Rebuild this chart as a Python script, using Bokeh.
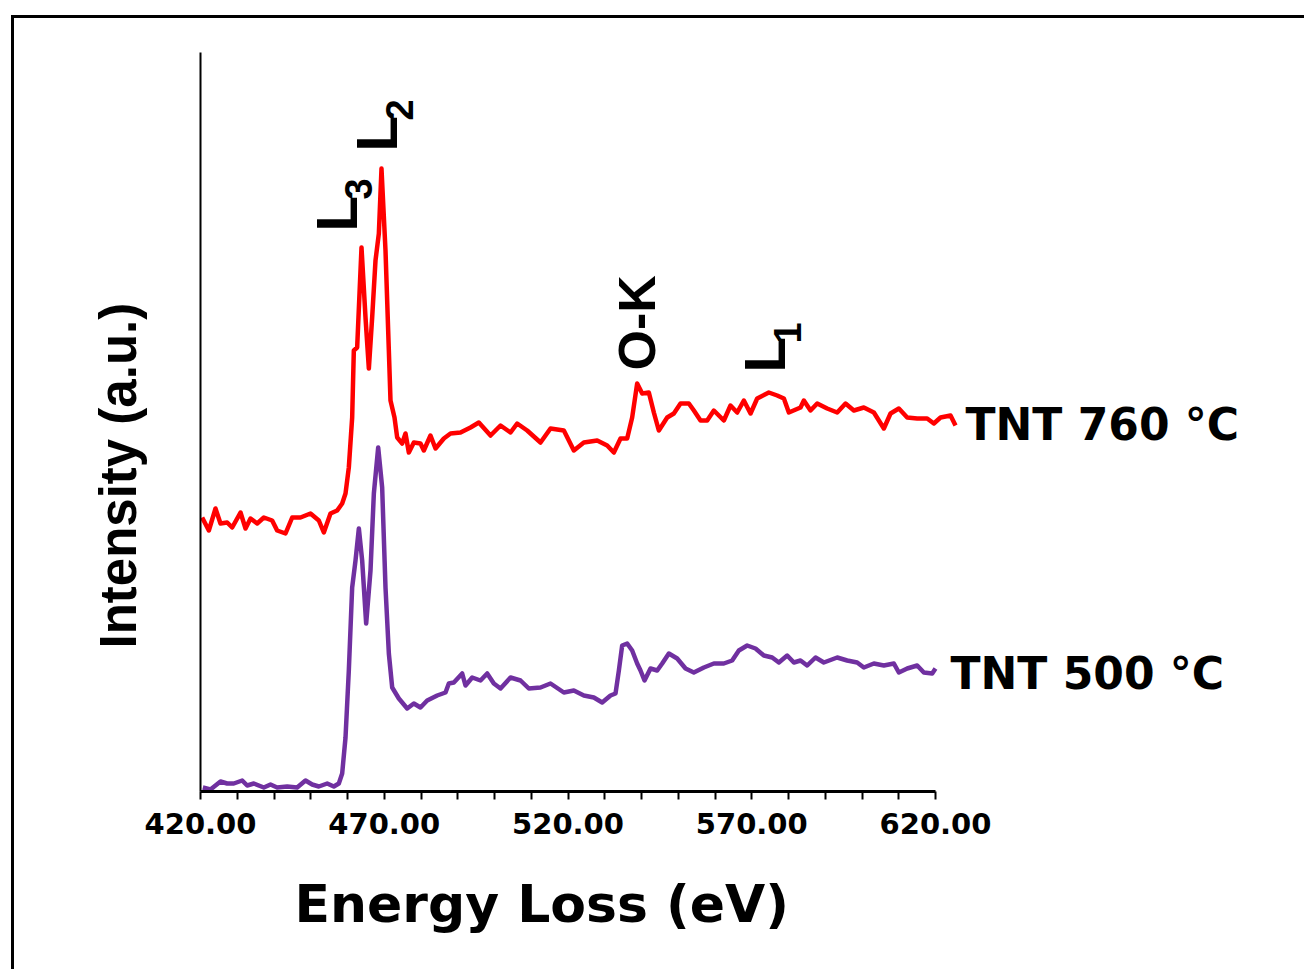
import math

from bokeh.plotting import figure
from bokeh.models import Range1d, FixedTicker, PrintfTickFormatter, Label, Title
from bokeh.embed import file_html
from bokeh.resources import INLINE

# EELS spectra of TiO2 nanotubes annealed at two temperatures
energy_760 = [420.45, 422.27, 424.08, 425.44, 427.26, 428.62, 430.89, 432.25, 433.61, 435.42,
              437.24, 439.50, 440.86, 443.13, 444.95, 447.21, 449.93, 452.20, 453.56, 455.37,
              457.19, 458.55, 459.46, 460.36, 461.27, 461.72, 462.63, 463.81, 464.90, 465.81,
              466.71, 467.62, 468.53, 469.25, 470.34, 471.25, 471.70, 472.79, 473.52, 474.88,
              475.78, 476.69, 478.05, 479.86, 480.77, 482.58, 483.95, 486.21, 488.03, 490.75,
              493.47, 495.74, 498.92, 501.64, 504.36, 506.17, 508.89, 512.52, 515.24, 518.87,
              521.59, 524.31, 527.94, 530.66, 532.48, 534.29, 536.10, 537.46, 538.82, 540.19,
              542.00, 543.36, 544.72, 546.99, 548.80, 550.62, 552.89, 554.25, 556.06, 557.87,
              559.69, 562.41, 564.22, 566.04, 567.85, 569.67, 571.48, 574.65, 576.92, 578.74,
              580.10, 583.27, 584.18, 585.99, 587.81, 590.53, 593.25, 595.52, 597.78, 600.50,
              603.23, 605.95, 607.76, 610.03, 612.30, 615.02, 617.74, 619.55, 621.37, 624.09,
              625.45]
intensity_760 = [27.6, 26.3, 28.5, 27.0, 27.1, 26.6, 28.1, 26.5, 27.5, 27.0,
                 27.6, 27.3, 26.3, 26.0, 27.6, 27.6, 28.0, 27.3, 26.1, 28.0,
                 28.3, 29.0, 30.0, 32.6, 37.6, 44.3, 44.6, 54.6, 47.6, 42.5,
                 47.6, 53.3, 56.0, 62.5, 54.3, 44.3, 39.3, 37.6, 35.6, 35.0,
                 36.0, 34.1, 35.1, 35.0, 34.3, 35.8, 34.5, 35.5, 36.0, 36.1,
                 36.6, 37.1, 35.8, 36.8, 36.1, 37.0, 36.3, 35.1, 36.5, 36.3,
                 34.3, 35.1, 35.3, 34.8, 34.1, 35.5, 35.5, 37.6, 41.0, 40.0,
                 40.1, 38.1, 36.3, 37.6, 38.0, 39.0, 39.0, 38.3, 37.3, 37.3,
                 38.3, 37.3, 38.8, 38.1, 39.3, 38.0, 39.5, 40.1, 39.8, 39.5,
                 38.1, 38.6, 39.3, 38.3, 39.0, 38.5, 38.1, 39.0, 38.3, 38.6,
                 38.1, 36.5, 38.0, 38.5, 37.6, 37.5, 37.5, 37.0, 37.6, 37.8,
                 36.8]

energy_500 = [420.64, 422.72, 425.44, 427.26, 429.07, 431.34, 432.70, 434.51, 437.23, 439.05,
              440.86, 443.58, 446.30, 448.57, 450.39, 452.20, 454.47, 456.28, 457.64, 458.55,
              459.46, 460.36, 461.27, 462.18, 463.09, 463.99, 465.08, 466.26, 467.17, 468.35,
              469.43, 470.34, 471.25, 472.16, 473.97, 476.24, 478.05, 479.86, 481.68, 484.40,
              486.67, 487.57, 488.94, 491.21, 492.11, 493.93, 496.19, 498.01, 499.82, 501.64,
              504.36, 507.08, 509.35, 512.52, 515.24, 518.87, 521.59, 524.31, 527.03, 529.30,
              531.57, 532.93, 533.84, 534.74, 536.10, 537.46, 538.82, 539.73, 540.82, 542.45,
              544.27, 545.63, 547.44, 549.71, 551.98, 554.24, 556.97, 559.69, 562.41, 564.67,
              566.49, 568.76, 571.02, 573.29, 575.56, 577.38, 579.64, 581.46, 583.27, 585.08,
              587.35, 589.62, 593.25, 595.97, 598.69, 600.50, 603.23, 605.95, 608.67, 610.03,
              612.30, 615.02, 616.83, 619.10, 620.00]
intensity_500 = [0.6, 0.4, 1.2, 1.0, 1.0, 1.3, 0.8, 1.0, 0.6, 0.9,
                 0.6, 0.7, 0.6, 1.3, 0.9, 0.7, 1.0, 0.7, 1.0, 2.0,
                 5.6, 12.3, 20.6, 23.3, 26.5, 23.3, 17.0, 22.3, 30.0, 34.6,
                 30.6, 20.6, 14.0, 10.6, 9.5, 8.5, 9.0, 8.6, 9.3, 9.8,
                 10.1, 11.0, 11.1, 12.0, 10.8, 11.6, 11.3, 12.0, 11.0, 10.5,
                 11.6, 11.3, 10.5, 10.6, 11.0, 10.1, 10.3, 9.8, 9.6, 9.1,
                 9.8, 10.0, 12.3, 14.8, 15.0, 14.3, 13.0, 12.3, 11.3, 12.5,
                 12.3, 13.0, 14.0, 13.5, 12.5, 12.1, 12.6, 13.0, 13.0, 13.3,
                 14.3, 14.8, 14.5, 13.8, 13.6, 13.1, 13.8, 13.1, 13.3, 12.8,
                 13.6, 13.1, 13.6, 13.3, 13.1, 12.6, 13.0, 12.8, 13.0, 12.1,
                 12.5, 12.8, 12.1, 12.0, 12.5]

series_names = ["TNT 760 \u00b0C", "TNT 500 \u00b0C"]
series_colors = ["#FF0000", "#7030A0"]

tick_values = [420, 470, 520, 570, 620]
minor_tick_values = [430, 440, 450, 460, 480, 490, 500, 510,
                     530, 540, 550, 560, 580, 590, 600, 610]

# page geometry (pixels); the canvas sits inside a framed panel
PAGE_W, PAGE_H = 1309, 976
OX, OY = 14, 18                      # canvas offset inside the panel frame
W, H = PAGE_W - OX - 2, PAGE_H - OY - 4
AXIS_X, AXIS_TOP, AXIS_Y = 200, 52, 791   # page positions of the axes
PX_PER_EV = 3.675
PX_PER_UNIT = 10.0
E0, Y0 = 420.0, 0.2

x_end = E0 + (OX + W - AXIS_X) / PX_PER_EV
y_end = Y0 + (AXIS_Y - AXIS_TOP) / PX_PER_UNIT


def ev_at(px):
    """Energy at a horizontal page position."""
    return E0 + (px - AXIS_X) / PX_PER_EV


def ia_at(py):
    """Intensity at a vertical page position."""
    return Y0 + (AXIS_Y - py) / PX_PER_UNIT


p = figure(width=W, height=H,
           x_range=Range1d(E0, x_end), y_range=Range1d(Y0, y_end),
           output_backend="svg", toolbar_location=None,
           min_border_left=AXIS_X - OX, min_border_right=0,
           min_border_top=AXIS_TOP - OY, min_border_bottom=OY + H - AXIS_Y)
p.outline_line_color = None
p.grid.visible = False
p.background_fill_color = "white"
p.border_fill_color = "white"
# panel frame: a solid shadow shows as a line along the left and top edges
p.styles = {"position": "absolute", "left": f"{OX}px", "top": f"{OY}px",
            "box-shadow": "-3px -3px 0 0 black"}

# x axis: line stops at 620 eV, ticks every 10 eV pointing down
xa = p.xaxis[0]
xa.bounds = (420, 620)
xa.ticker = FixedTicker(ticks=tick_values, minor_ticks=minor_tick_values)
xa.formatter = PrintfTickFormatter(format="%.2f")
xa.axis_line_width = 3
xa.axis_line_color = "black"
xa.major_tick_in = 0
xa.major_tick_out = 8
xa.minor_tick_in = 0
xa.minor_tick_out = 8
xa.major_tick_line_width = 2
xa.minor_tick_line_width = 2
xa.major_label_standoff = 13
xa.major_label_text_font = "DejaVu Sans"
xa.major_label_text_font_style = "bold"
xa.major_label_text_font_size = "29px"
xa.major_label_text_color = "black"

# y axis: bare line
ya = p.yaxis[0]
ya.ticker = FixedTicker(ticks=[])
ya.major_tick_in = 0
ya.major_tick_out = 0
ya.minor_tick_in = 0
ya.minor_tick_out = 0
ya.major_label_text_font_size = "0px"
ya.axis_line_width = 2
ya.axis_line_color = "black"

# axis titles, placed along the axes from the axis origin
p.add_layout(Title(text="Energy Loss (eV)", align="left", offset=94,
                   vertical_align="bottom", standoff=70,
                   text_font="DejaVu Sans", text_font_style="bold",
                   text_font_size="52px", text_color="black"), "below")
p.add_layout(Title(text="Intensity (a.u.)", align="left", offset=143,
                   vertical_align="bottom", standoff=108,
                   text_font="Liberation Sans", text_font_style="bold",
                   text_font_size="51px", text_color="black"), "left")

# spectra
p.line(energy_760, intensity_760, line_color=series_colors[0], line_width=4.5, line_join="round")
p.line(energy_500, intensity_500, line_color=series_colors[1], line_width=4.5, line_join="round")

# series names at the right end of each trace
for name, px, py in [(series_names[0], 965, 423.5), (series_names[1], 950, 673)]:
    p.add_layout(Label(x=ev_at(px), y=ia_at(py), text=name,
                       text_font="DejaVu Sans", text_font_style="bold", text_font_size="44px",
                       text_align="left", text_baseline="middle", text_color="black"))

# edge labels, written vertically: main letter plus subscript
edge_labels = [("L", 335.5, 231, "58px"), ("3", 358, 199, "38px"),
               ("L", 375.5, 151, "58px"), ("2", 399, 120, "38px"),
               ("O-K", 636, 370, "52px"),
               ("L", 763.5, 372, "58px"), ("1", 787, 343, "38px")]
for txt, px, py, size in edge_labels:
    p.add_layout(Label(x=ev_at(px), y=ia_at(py), text=txt, angle=math.pi / 2,
                       text_font="Liberation Sans", text_font_style="bold", text_font_size=size,
                       text_align="left", text_baseline="middle", text_color="black"))

open("out.html", "w").write(file_html(p, INLINE))
